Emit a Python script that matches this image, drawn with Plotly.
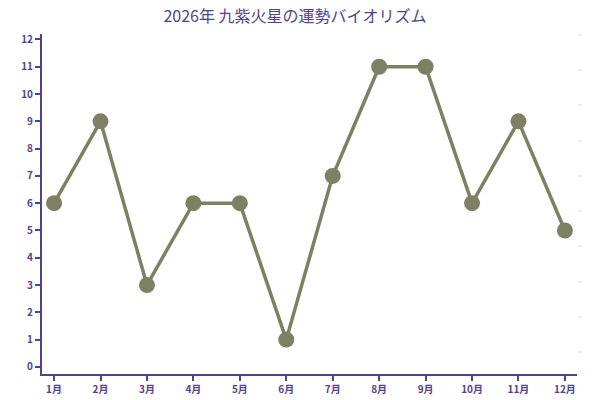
import plotly.graph_objects as go

months = ["1月", "2月", "3月", "4月", "5月", "6月", "7月", "8月", "9月", "10月", "11月", "12月"]
values = [6, 9, 3, 6, 6, 1, 7, 11, 11, 6, 9, 5]
y_ticks = list(range(0, 13))
title_text = "2026年 九紫火星の運勢バイオリズム"

purple = "#52438c"
olive = "#7d8062"
font_family = "Noto Sans CJK JP, Noto Sans, sans-serif"

W, H = 600, 400

fig = go.Figure()
fig.add_trace(go.Scatter(
    x=months, y=values, mode="lines+markers",
    line=dict(color=olive, width=3.5),
    marker=dict(color=olive, size=16),
    showlegend=False,
))
# faint right-side axis ticks
fig.add_trace(go.Scatter(x=[months[0]], y=[None], yaxis="y2", showlegend=False, hoverinfo="skip"))

fig.update_layout(
    width=W, height=H,
    margin=dict(l=42, r=23, t=34, b=26, autoexpand=False),
    paper_bgcolor="white", plot_bgcolor="white",
    font=dict(family=font_family, color=purple),
    title=dict(text=title_text, x=295 / W, xanchor="center", y=1 - 16.5 / H, yanchor="middle",
               font=dict(size=16, color=purple, family=font_family)),
    xaxis=dict(
        type="category", range=[-0.26, 11.26], automargin=False,
        showline=True, linecolor=purple, linewidth=2,
        ticks="outside", ticklen=5, tickwidth=2, tickcolor=purple,
        showgrid=False, zeroline=False,
        tickfont=dict(size=10, color=purple, weight="bold"),
    ),
    yaxis=dict(
        range=[-0.26, 12.2], tickvals=y_ticks, automargin=False,
        showline=True, linecolor=purple, linewidth=2,
        ticks="outside", ticklen=5, tickwidth=2, tickcolor=purple,
        showgrid=False, zeroline=False,
        tickfont=dict(size=10, color=purple, weight="bold"),
    ),
    yaxis2=dict(
        overlaying="y", side="right", range=[-0.625, 9.03], dtick=1, automargin=False,
        showline=False, showgrid=False, zeroline=False, showticklabels=False,
        ticks="outside", ticklen=4, tickwidth=2, tickcolor="#ececec",
    ),
)

fig.write_html("out.html", config={"displayModeBar": False},
               post_script="document.body.style.margin='0';")
